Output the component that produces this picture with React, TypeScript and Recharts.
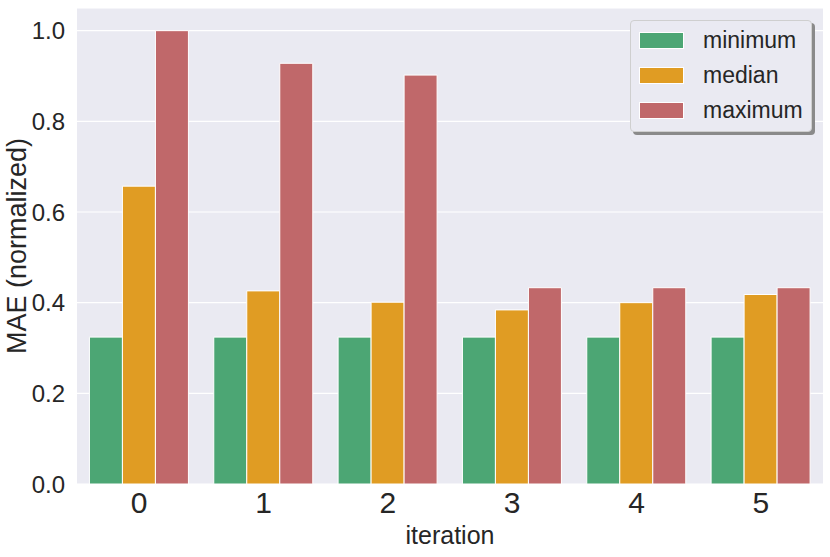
import React from 'react';
import { BarChart, Bar, XAxis, YAxis, CartesianGrid, Legend } from 'recharts';

const iterations = ['0', '1', '2', '3', '4', '5'];
const minimumValues = [0.324, 0.324, 0.324, 0.324, 0.324, 0.324];
const medianValues = [0.657, 0.426, 0.401, 0.384, 0.400, 0.418];
const maximumValues = [1.0, 0.928, 0.902, 0.433, 0.433, 0.433];
const yTicks = [0, 0.2, 0.4, 0.6, 0.8, 1.0];

const seriesNames = ['minimum', 'median', 'maximum'];
const colors = ['#4ca674', '#e09c23', '#c0686a'];

const data = iterations.map((it, i) => ({
  iteration: it,
  minimum: minimumValues[i],
  median: medianValues[i],
  maximum: maximumValues[i],
}));

const FONT = '"Liberation Sans", Arial, sans-serif';

const LegendBox = () => (
  <div
    style={{
      position: 'absolute',
      left: 630,
      top: 20,
      width: 182,
      height: 112,
      boxSizing: 'border-box',
      background: '#eaeaf2',
      border: '1px solid #cfcfcf',
      borderRadius: 4,
      boxShadow: '3px 3px 0px #8a8a8a',
      fontFamily: FONT,
      fontSize: 23,
      color: '#262626',
    }}
  >
    {seriesNames.map((n, i) => (
      <div
        key={n}
        style={{ position: 'absolute', left: 8, top: 10 + i * 35, height: 18, display: 'flex', alignItems: 'center' }}
      >
        <div style={{ width: 45, height: 17, background: colors[i], border: '1px solid #fff', boxSizing: 'border-box' }} />
        <span style={{ marginLeft: 19, lineHeight: '18px', whiteSpace: 'nowrap' }}>{n}</span>
      </div>
    ))}
  </div>
);

export default function App() {
  return (
    <div style={{ position: 'absolute', left: 0, top: 0, width: 830, height: 557, background: '#fff' }}>
      <BarChart
        width={830}
        height={557}
        data={data}
        margin={{ top: 8, right: 7, left: 0, bottom: 0 }}
        barCategoryGap="10%"
        barGap={0}
      >
        <CartesianGrid vertical={false} stroke="#ffffff" strokeWidth={1.2} fill="#eaeaf2" />
        <XAxis
          dataKey="iteration"
          height={73}
          axisLine={false}
          tickLine={false}
          tick={{ fill: '#262626', fontSize: 30, fontFamily: FONT }}
          tickMargin={2}
          label={{ value: 'iteration', position: 'insideBottom', offset: 13, fill: '#262626', fontSize: 25, fontFamily: FONT }}
        />
        <YAxis
          width={77}
          domain={[0, 1.05]}
          ticks={yTicks}
          allowDataOverflow
          axisLine={false}
          tickLine={false}
          tickFormatter={(v: number) => v.toFixed(1)}
          tick={{ fill: '#262626', fontSize: 24, fontFamily: FONT }}
          tickMargin={6}
          label={{ value: 'MAE (normalized)', angle: -90, position: 'insideLeft', offset: 16, style: { textAnchor: 'middle' }, fill: '#262626', fontSize: 27, fontFamily: FONT }}
        />
        <Legend content={() => <LegendBox />} wrapperStyle={{ position: 'absolute', left: 0, top: 0, width: 0, height: 0 }} />
        {seriesNames.map((n, i) => (
          <Bar key={n} dataKey={n} fill={colors[i]} stroke="#ffffff" strokeWidth={1} isAnimationActive={false} />
        ))}
      </BarChart>
    </div>
  );
}
